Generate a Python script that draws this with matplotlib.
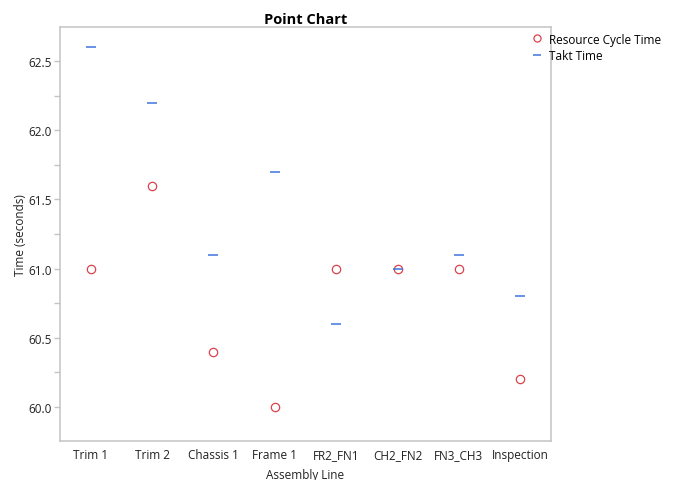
import matplotlib
matplotlib.use("Agg")
import matplotlib.pyplot as plt
from matplotlib.ticker import MultipleLocator

categories = ["Trim 1", "Trim 2", "Chassis 1", "Frame 1", "FR2_FN1", "CH2_FN2", "FN3_CH3", "Inspection"]
cycle_time = [61.0, 61.6, 60.4, 60.0, 61.0, 61.0, 61.0, 60.2]
takt_time = [62.6, 62.2, 61.1, 61.7, 60.6, 61.0, 61.1, 60.8]

plt.rcParams['font.family'] = ['Open Sans', 'DejaVu Sans']
grey = "#c4c4c4"

fig = plt.figure(figsize=(6.8, 4.81), dpi=100)
ax = fig.add_axes([0.0882, 0.0811, 0.7221, 0.8607])
x = list(range(len(categories)))
ax.plot(x, cycle_time, linestyle="none", marker="o", markersize=6,
        markerfacecolor="none", markeredgecolor="#d9434d", markeredgewidth=0.9,
        label="Resource Cycle Time", zorder=3)
ax.plot(x, takt_time, linestyle="none", marker="_", markersize=7.5,
        markeredgecolor="#3f74dc", markeredgewidth=1.1, label="Takt Time", zorder=4)

ax.set_xlim(-0.5, len(categories) - 0.5)
ax.set_ylim(59.754, 62.746)
ax.set_xticks(x)
ax.set_xticklabels(categories)
ax.yaxis.set_major_locator(MultipleLocator(0.5))
ax.yaxis.set_minor_locator(MultipleLocator(0.25))
ax.yaxis.set_major_formatter(matplotlib.ticker.FormatStrFormatter("%.1f"))
for s in ax.spines.values():
    s.set_color(grey)
    s.set_linewidth(1.1)
ax.tick_params(axis="y", which="both", color=grey, length=4, width=1, labelsize=8.5, labelcolor="#222222", pad=2)
ax.tick_params(axis="x", length=0, labelsize=8.5, labelcolor="#222222", pad=5)
ax.set_xlabel("Assembly Line", fontsize=8.5, color="#222222", labelpad=5)
ax.set_ylabel("Time (seconds)", fontsize=8.5, color="#222222", labelpad=1)
ax.set_title("Point Chart", fontsize=10.5, fontweight="bold", pad=3)

fig.legend(loc="upper left", bbox_to_anchor=(0.776, 0.94), frameon=False,
           fontsize=8.5, handlelength=0.8, handletextpad=0.6, labelspacing=0.3,
           borderaxespad=0, markerscale=0.85)
fig.savefig("out.png", dpi=100)
